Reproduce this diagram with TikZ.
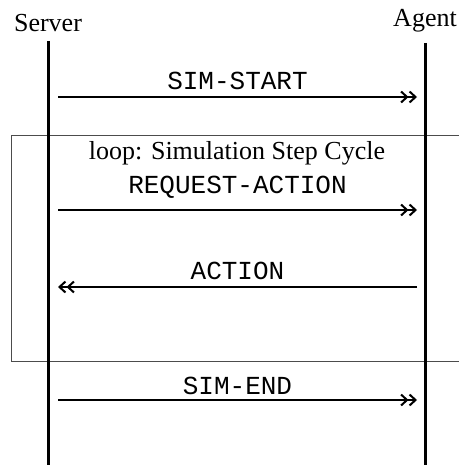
\documentclass[tikz,border=0pt]{standalone}
\usepackage{fontspec}
\setmainfont{Liberation Serif}
\setmonofont{Liberation Mono}
\usepackage{tikz}
\usetikzlibrary{arrows.meta}

\begin{document}
\begin{tikzpicture}[x=0.5pt, y=-0.5pt, font=\fontsize{13}{15}\selectfont,
    msg/.style={-{Straight Barb[length=3pt,width=5.5pt]Straight Barb[length=3pt,width=5.5pt]}, line width=1pt},
    msglabel/.style={above, font=\ttfamily\fontsize{13}{15}\selectfont}]
    \useasboundingbox (0,0) rectangle (459,465);
    % loop frame, open to the right
    \draw[gray!60!black, line width=0.5pt] (459,135) -| (11,361) -- (459,361);
    \node[anchor=base] at (237,159) (Loop) {loop: Simulation Step Cycle};
    % lifelines
    \node[anchor=base] at (48,32) (Server) {Server};
    \node[anchor=base] at (425,27) (Agent) {Agent};
    \coordinate (S0) at (48,41);
    \coordinate (S1) at (48,465);
    \coordinate (A0) at (425,43);
    \coordinate (A1) at (425,465);
    \draw[line width=1.5pt] (S0) -- (S1);
    \draw[line width=1.5pt] (A0) -- (A1);
    % messages
    \coordinate (M1s) at (58,97);
    \coordinate (M1a) at (417,97);
    \coordinate (M2s) at (58,210);
    \coordinate (M2a) at (417,210);
    \coordinate (M3s) at (58,287);
    \coordinate (M3a) at (417,287);
    \coordinate (M4s) at (58,400);
    \coordinate (M4a) at (417,400);
    \path [msg] (M1s) edge node[msglabel] {SIM-START} (M1a);
    \path [msg] (M2s) edge node[msglabel, yshift=2pt] {REQUEST-ACTION} (M2a);
    \path [msg] (M3a) edge node[msglabel] {ACTION} (M3s);
    \path [msg] (M4s) edge node[msglabel, yshift=-1pt] {SIM-END} (M4a);
\end{tikzpicture}
\end{document}
